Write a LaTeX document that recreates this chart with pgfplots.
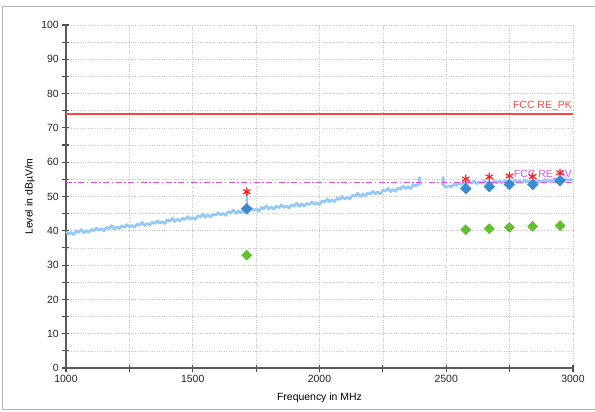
\documentclass[border=0pt]{standalone}
\usepackage{fontspec}
\setmainfont{Liberation Sans}
\usepackage{pgfplots}
\pgfplotsset{compat=1.18}
\definecolor{trace}{HTML}{94C8F6}
\definecolor{pkred}{HTML}{EE4B45}
\definecolor{avmag}{HTML}{E050E0}
\definecolor{bluedia}{HTML}{3A8AD0}
\definecolor{greendia}{HTML}{62C030}
\definecolor{starred}{HTML}{FF2020}
\begin{document}
\fontsize{10.5}{12}\selectfont
\begin{tikzpicture}
\useasboundingbox (-66bp,-44bp) rectangle (529bp,368bp);
\fill[white] (-66bp,-44bp) rectangle (529bp,368bp);
\draw[black!30, line width=1bp] (-63bp,-41bp) rectangle (540bp,361bp);
\begin{axis}[
  at={(0,0)}, anchor=south west,
  scale only axis, width=507bp, height=343bp,
  xmin=1000, xmax=3000, ymin=0, ymax=100,
  axis x line*=bottom, axis y line*=left,
  x axis line style={-}, y axis line style={-},
  axis line style={draw=black!65, line width=1.3bp},
  xtick={1000,1500,2000,2500,3000},
  minor xtick={1250,1750,2250,2750},
  ytick={0,10,...,100},
  minor ytick={5,15,...,95},
  grid=both,
  major grid style={dotted, black!22, line width=0.7bp},
  minor grid style={dotted, black!22, line width=0.7bp},
  tick align=center,
  major tick length=7bp, minor tick length=7bp,
  tick style={draw=black!70, line width=1.1bp},
  /pgf/number format/assume math mode=true,
  scaled x ticks=false,
  xticklabel={\pgfmathprintnumber[1000 sep={}]{\tick}},
  tick label style={font=\fontsize{10.5}{12}\selectfont, text=black!85},
  xlabel={Frequency in MHz},
  ylabel={Level in dBµV/m},
  xlabel style={at={(axis description cs:0.5,-0.0875)}, anchor=center, font=\fontsize{10.5}{12}\selectfont},
  ylabel style={at={(axis description cs:-0.071,0.5)}, anchor=center, font=\fontsize{10.5}{12}\selectfont},
  clip=false,
]
% measurement trace
\addplot[trace, line width=2.6bp, mark=none, line join=round] coordinates {
(1000,39.7)(1010,39.0)(1020,39.5)(1030,38.9)(1040,40.0)(1050,39.5)(1060,40.4)(1070,39.4)(1080,40.1)(1090,39.5)
(1100,40.4)(1110,40.0)(1120,40.8)(1130,40.1)(1140,40.6)(1150,40.0)(1160,41.0)(1170,40.6)(1180,41.5)(1190,40.5)
(1200,41.2)(1210,40.6)(1220,41.5)(1230,41.0)(1240,41.8)(1250,41.1)(1260,41.6)(1270,41.0)(1280,42.0)(1290,41.6)
(1300,42.5)(1310,41.5)(1320,42.2)(1330,41.6)(1340,42.5)(1350,42.1)(1360,42.9)(1370,42.2)(1380,42.7)(1390,42.1)
(1400,43.2)(1410,42.8)(1420,43.7)(1430,42.7)(1440,43.4)(1450,42.8)(1460,43.7)(1470,43.3)(1480,44.1)(1490,43.4)
(1500,43.9)(1510,43.3)(1520,44.4)(1530,44.0)(1540,44.9)(1550,43.9)(1560,44.6)(1570,44.0)(1580,44.9)(1590,44.5)
(1600,45.3)(1610,44.6)(1620,45.1)(1630,44.5)(1640,45.6)(1650,45.2)(1660,46.1)(1670,45.1)(1680,45.8)(1690,45.2)
(1700,46.1)(1708,45.9)
};
\addplot[trace, line width=1.2bp, mark=none] coordinates {(1711,46.0)(1711,51.0)(1715,51.0)(1715,46.0)};
\addplot[trace, line width=2.6bp, mark=none, line join=round] coordinates {
(1716,45.7)(1720,45.8)(1730,46.6)(1740,45.9)(1750,46.4)(1760,45.7)(1770,46.8)(1780,46.4)(1790,47.3)
(1800,46.3)(1810,47.0)(1820,46.3)(1830,47.2)(1840,46.7)(1850,47.5)(1860,46.8)(1870,47.2)(1880,46.6)(1890,47.6)
(1900,47.2)(1910,48.1)(1920,47.1)(1930,47.8)(1940,47.2)(1950,48.0)(1960,47.6)(1970,48.4)(1980,47.7)(1990,48.2)
(2000,47.6)(2010,48.7)(2020,48.4)(2030,49.3)(2040,48.4)(2050,49.1)(2060,48.5)(2070,49.5)(2080,49.1)(2090,50.0)
(2100,49.3)(2110,49.8)(2120,49.3)(2130,50.4)(2140,50.0)(2150,51.0)(2160,50.0)(2170,50.7)(2180,50.1)(2190,51.1)
(2200,50.7)(2210,51.5)(2220,50.8)(2230,51.3)(2240,50.7)(2250,51.9)(2260,51.5)(2270,52.4)(2280,51.4)(2290,52.1)
(2300,51.5)(2310,52.5)(2320,52.1)(2330,53.0)(2340,52.3)(2350,52.9)(2360,52.3)(2370,53.5)(2380,53.1)(2390,53.6)
(2395,55.5)(2398,53.4)
};
\addplot[trace, line width=2.6bp, mark=none, line join=round] coordinates {
(2485,53.2)(2488,55.6)(2492,53.0)(2500,52.6)(2510,53.1)(2520,52.8)(2530,53.6)(2540,53.2)(2550,54.0)(2560,53.5)
(2570,54.2)(2580,53.6)(2590,54.4)(2600,53.8)(2610,54.5)(2620,53.7)(2630,54.3)(2640,53.8)(2650,54.6)(2660,54.0)
(2670,54.3)(2680,53.7)(2690,54.6)(2700,54.0)(2710,54.5)(2720,53.9)(2730,54.7)(2740,54.1)(2750,54.4)(2760,53.9)
(2770,54.8)(2780,54.1)(2790,54.5)(2800,54.0)(2810,54.8)(2820,54.2)(2830,54.6)(2840,54.0)(2850,54.9)(2860,54.3)
(2870,54.6)(2880,54.1)(2890,55.0)(2900,54.4)(2910,54.8)(2920,54.2)(2930,55.1)(2940,54.5)(2950,54.9)(2960,54.3)
(2970,55.2)(2980,54.6)(2990,55.0)(3000,54.7)
};
% limit lines
\addplot[pkred, line width=1.8bp, mark=none] coordinates {(1000,74)(3000,74)};
\addplot[avmag, line width=1bp, dash pattern=on 6bp off 2.5bp on 1.5bp off 2.5bp, mark=none] coordinates {(1000,54)(3000,54)};
\node[anchor=south east, text=pkred, inner sep=1bp, font=\fontsize{10.5}{12}\selectfont] at (axis cs:3000,74.7) {FCC RE\_PK};
\node[anchor=south east, text=avmag, inner sep=1bp, font=\fontsize{10.5}{12}\selectfont] at (axis cs:3000,54.7) {FCC RE\_AV};
% peak markers
\addplot[only marks, mark=asterisk, mark size=4.3bp, starred, mark options={line width=1.2bp}] coordinates {
(1713,51.4)(2577,55.1)(2670,55.7)(2749,56.0)(2841,55.8)(2949,56.9)
};
% QP / peak diamonds
\addplot[only marks, mark=square*, mark size=3.8bp, mark options={rotate=45, fill=bluedia, draw=bluedia}] coordinates {
(1713,46.4)(2577,52.3)(2670,52.9)(2749,53.5)(2841,53.5)(2949,54.6)
};
% average diamonds
\addplot[only marks, mark=square*, mark size=3.6bp, mark options={rotate=45, fill=greendia, draw=greendia}] coordinates {
(1713,32.9)(2577,40.3)(2670,40.6)(2749,41.0)(2841,41.3)(2949,41.5)
};
\end{axis}
\end{tikzpicture}
\end{document}
